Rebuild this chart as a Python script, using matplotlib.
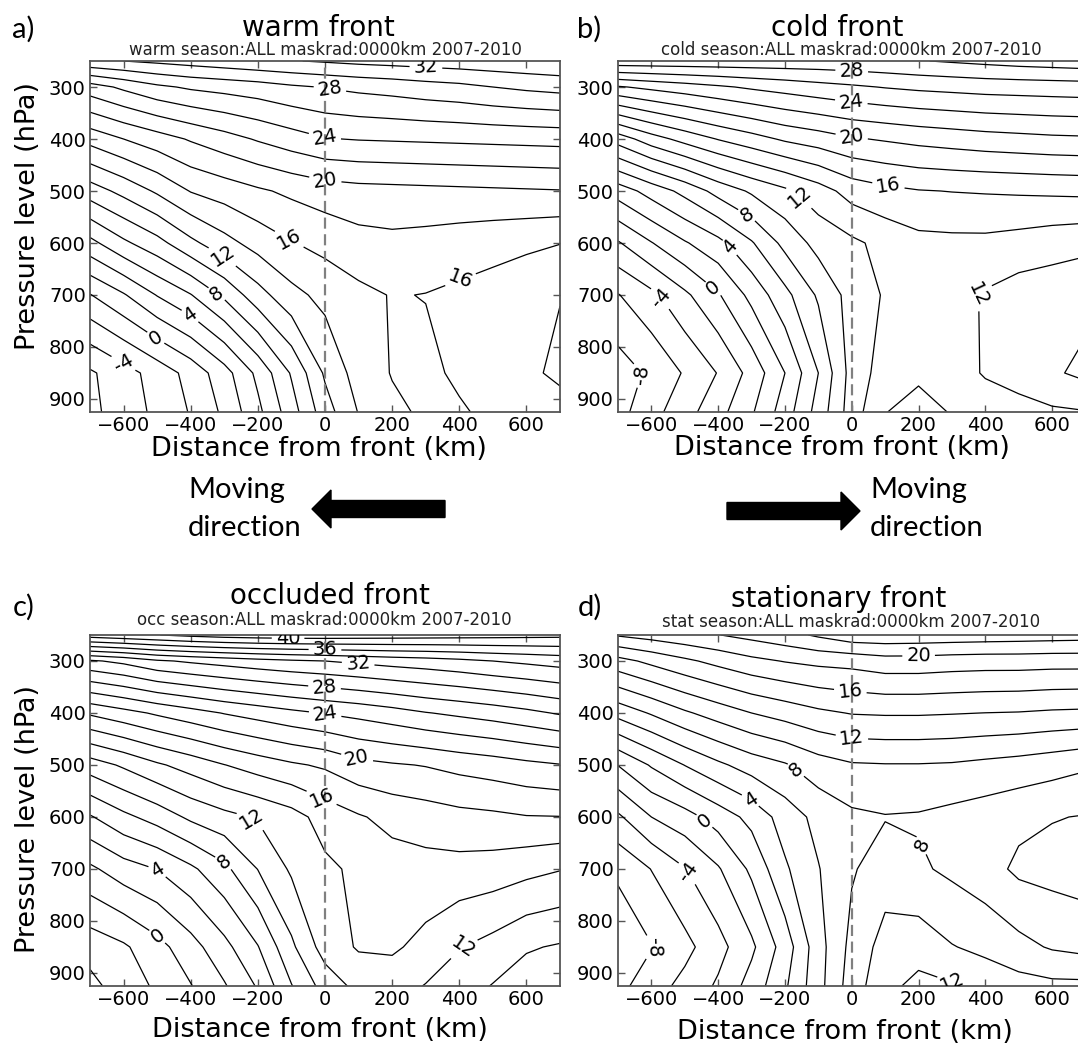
import numpy as np
import matplotlib
matplotlib.use("Agg")
import matplotlib.pyplot as plt
from matplotlib.patches import FancyArrow

W, H = 1078, 1048

# grid of the composites: distance from front (km) and pressure level (hPa)
dist_km = [-700, -600, -500, -400, -300, -200, -100, 0, 100, 200, 300, 400, 500, 600, 700]
pressure_hpa = [250, 300, 400, 500, 600, 700, 850, 925]

# one row per pressure level, one column per distance
warm_front = [
    [29.6, 30.0, 30.4, 30.8, 31.2, 31.6, 31.9, 32.2, 32.5, 32.7, 32.9, 33.1, 33.3, 33.5, 33.7],
    [23.1, 24.4, 25.6, 26.3, 26.7, 27.1, 27.7, 28.1, 28.5, 28.8, 29.2, 29.5, 30.0, 30.4, 30.7],
    [16.7, 18.0, 19.1, 20.2, 21.2, 22.2, 23.1, 23.9, 24.1, 24.2, 24.3, 24.4, 24.5, 24.6, 24.7],
    [11.0, 12.6, 14.3, 16.1, 16.9, 17.7, 18.4, 19.0, 19.3, 19.4, 19.5, 19.6, 19.7, 19.8, 19.9],
    [5.4, 7.6, 9.3, 11.5, 13.3, 14.8, 15.9, 16.6, 17.3, 17.5, 17.3, 17.0, 16.7, 16.4, 16.05],
    [-0.1, 1.8, 4.1, 5.9, 8.4, 11.2, 13.4, 14.6, 15.5, 16.1, 15.95, 15.6, 15.2, 14.6, 14.05],
    [-6.3, -4.8, -3.2, -1.3, 1.2, 4.5, 8.2, 12.3, 14.9, 16.1, 16.4, 15.7, 15.0, 14.3, 13.7],
    [-6.5, -5.05, -3.55, -1.85, 0.4, 3.5, 7.1, 11.1, 14.1, 15.6, 16.3, 16.2, 15.6, 15.1, 14.6],
]
cold_front = [
    [29.3, 29.3, 29.3, 29.3, 29.3, 29.3, 29.3, 29.4, 29.6, 29.9, 30.2, 30.5, 30.8, 31.0, 31.2],
    [21.8, 22.5, 23.1, 23.7, 24.3, 24.8, 25.3, 25.7, 26.1, 26.4, 26.6, 26.8, 26.9, 27.0, 27.1],
    [10.9, 13.1, 14.7, 16.1, 17.2, 18.3, 19.0, 19.8, 20.2, 20.6, 20.9, 21.2, 21.4, 21.6, 21.7],
    [2.9, 4.8, 6.6, 8.7, 10.3, 11.6, 13.1, 14.8, 15.5, 15.9, 16.05, 16.15, 16.25, 16.35, 16.45],
    [-2.2, -0.1, 1.8, 3.4, 5.8, 8.6, 10.7, 11.6, 12.6, 13.4, 13.5, 13.5, 13.2, 12.8, 12.5],
    [-6.1, -4.5, -2.4, -0.2, 2.6, 5.4, 8.3, 10.8, 12.2, 13.4, 12.8, 11.8, 11.1, 10.9, 10.6],
    [-9.0, -7.6, -5.8, -3.9, -1.3, 2.0, 6.0, 10.8, 12.9, 13.7, 13.0, 11.8, 11.2, 10.3, 9.5],
    [-8.7, -6.7, -4.8, -2.7, -0.25, 3.0, 6.8, 11.0, 13.95, 14.6, 13.9, 13.2, 12.7, 12.3, 12.1],
]
occluded_front = [
    [39.0, 39.5, 39.95, 40.5, 40.9, 41.1, 41.2, 41.2, 41.1, 41.0, 40.9, 40.8, 40.7, 40.6, 40.5],
    [27.7, 28.5, 29.7, 30.3, 30.8, 31.3, 31.7, 32.0, 32.4, 32.8, 33.1, 33.5, 34.0, 34.4, 34.8],
    [18.3, 19.3, 20.3, 21.2, 22.1, 22.8, 23.5, 24.1, 24.6, 25.2, 25.9, 26.4, 26.9, 27.5, 28.2],
    [11.0, 12.3, 13.7, 14.8, 15.95, 16.9, 17.7, 18.3, 19.4, 19.8, 20.1, 20.6, 21.0, 21.5, 21.9],
    [5.8, 7.5, 8.8, 10.4, 11.4, 12.2, 13.2, 14.8, 15.8, 16.6, 17.0, 17.4, 17.6, 17.9, 17.95],
    [1.6, 3.1, 4.05, 5.6, 7.5, 10.05, 12.3, 13.6, 14.4, 15.1, 15.3, 15.3, 15.1, 14.6, 14.1],
    [-3.2, -2.3, -0.7, 1.2, 3.4, 5.9, 9.6, 12.9, 14.2, 14.3, 13.4, 12.1, 11.3, 10.2, 9.8],
    [-4.6, -3.0, -1.7, -0.1, 1.8, 4.2, 7.9, 10.8, 12.6, 12.9, 11.9, 10.9, 9.9, 9.0, 8.2],
]
stationary_front = [
    [18.2, 18.8, 19.4, 19.95, 20.6, 21.3, 22.3, 23.3, 23.4, 23.3, 23.2, 23.1, 23.0, 22.9, 22.8],
    [13.3, 14.5, 15.6, 16.6, 17.5, 18.1, 18.5, 18.7, 19.2, 19.2, 19.0, 18.9, 18.9, 18.8, 18.8],
    [6.7, 8.2, 9.7, 10.9, 12.0, 12.8, 13.6, 14.1, 14.2, 14.2, 14.1, 13.98, 13.9, 13.7, 13.6],
    [0.05, 2.2, 4.05, 5.6, 6.9, 7.8, 9.1, 9.8, 9.9, 9.9, 9.8, 9.5, 9.2, 8.8, 8.3],
    [-4.35, -2.0, -0.8, 0.9, 2.6, 4.9, 6.6, 7.6, 7.9, 7.8, 7.4, 7.0, 6.5, 6.1, 5.9],
    [-7.6, -5.95, -4.1, -2.2, 0.4, 3.7, 5.9, 7.8, 9.0, 8.3, 7.6, 6.8, 5.6, 5.3, 5.0],
    [-9.5, -8.1, -6.6, -4.7, -2.4, 0.9, 5.2, 8.6, 10.8, 11.1, 10.1, 9.5, 8.6, 7.8, 7.4],
    [-8.6, -6.9, -5.4, -3.7, -1.2, 1.7, 5.3, 9.0, 11.4, 12.6, 12.2, 11.3, 10.8, 10.5, 10.5],
]

titles = ["warm front", "cold front", "occluded front", "stationary front"]
subtitles = ["warm season:ALL maskrad:0000km 2007-2010",
             "cold season:ALL maskrad:0000km 2007-2010",
             "occ season:ALL maskrad:0000km 2007-2010",
             "stat season:ALL maskrad:0000km 2007-2010"]
letters = ["a)", "b)", "c)", "d)"]

# where the inline contour labels sit (km, hPa)
label_spots = [
    [(300, 270), (15, 302), (0, 395), (0, 484), (-105, 591), (-305, 626),
     (-325, 700), (-405, 744), (-505, 783), (-600, 831), (404, 671)],
    [(0, 267), (0, 322), (0, 395), (110, 488), (-145, 504), (-305, 536),
     (-355, 603), (-405, 680), (-565, 703), (-630, 853), (365, 697)],
    [(-110, 258), (0, 274), (100, 295), (0, 340), (0, 404), (100, 476),
     (0, 548), (-217, 603), (-292, 677), (-497, 702), (-497, 828), (410, 850)],
    [(200, 285), (-5, 362), (0, 449), (-155, 500), (-300, 564), (-435, 603),
     (-485, 705), (-595, 850), (200, 657), (305, 915)],
]

plt.rcParams['font.family'] = 'DejaVu Sans'
plt.rcParams['contour.negative_linestyle'] = 'solid'
fig = plt.figure(figsize=(W / 100, H / 100), dpi=100)

# axes boxes in pixels: left, top, width, height
boxes = [(90, 61, 470, 351), (618, 61, 467.5, 351),
         (90, 635, 470, 351), (618, 635, 467.5, 351)]
title_xy = [(318, 36), (837, 36), (330, 604), (839, 607)]
sub_xy = [(325, 55), (851, 55), (324, 625), (851, 627)]
letter_xy = [(12, 29), (577, 29), (13, 607), (578, 607)]
xlabel_pos = [(0.488, -0.105), (0.478, -0.103), (0.489, -0.125), (0.486, -0.131)]
ylabel_pos = [(-0.132, 0.558), None, (-0.132, 0.476), None]

fields = [warm_front, cold_front, occluded_front, stationary_front]

for i, field in enumerate(fields):
    z = np.array(field)
    all_lv = np.arange(-12, 46, 2)
    all_lv = all_lv[(all_lv > z.min()) & (all_lv < z.max())]
    plain_lv = [lv for lv in all_lv if lv % 4 != 0]
    lab_lv = [lv for lv in all_lv if lv % 4 == 0]

    l, t, w, h = boxes[i]
    ax = fig.add_axes([l / W, 1 - (t + h) / H, w / W, h / H])
    ax.contour(dist_km, pressure_hpa, z, levels=plain_lv, colors='k', linewidths=0.9)
    cs = ax.contour(dist_km, pressure_hpa, z, levels=lab_lv, colors='k', linewidths=0.9)
    labels = ax.clabel(cs, manual=label_spots[i], fmt='%d', fontsize=14,
                       inline=True, inline_spacing=4)
    # labels at the frame edge are cut by it, as in the original
    for txt in labels:
        txt.set_clip_path(ax.patch)
    ax.axvline(0, color='#808080', ls=(0, (5, 2.5)), lw=1.6)
    ax.set_xlim(-700, 700)
    ax.set_ylim(925, 250)
    ax.set_xticks(range(-600, 601, 200))
    ax.set_yticks(range(300, 901, 100))
    ax.tick_params(direction='in', top=True, right=True, length=5, width=1,
                   labelsize=14, color='#555555', pad=3)
    for sp in ax.spines.values():
        sp.set_color('#555555')
        sp.set_linewidth(1.3)
    ax.set_xlabel('Distance from front (km)', fontsize=19.5)
    ax.xaxis.set_label_coords(*xlabel_pos[i])
    ax.xaxis.label.set_va('center')
    if ylabel_pos[i] is not None:
        ax.set_ylabel('Pressure level (hPa)', fontsize=19.5)
        ax.yaxis.set_label_coords(*ylabel_pos[i])
        ax.yaxis.label.set_va('center')

    tx, ty = title_xy[i]
    fig.text(tx / W, 1 - ty / H, titles[i], fontsize=20, ha='center', va='baseline')
    sx, sy = sub_xy[i]
    fig.text(sx / W, 1 - sy / H, subtitles[i], fontsize=12, ha='center', va='baseline',
             color='#222222')
    lx, ly = letter_xy[i]
    fig.text(lx / W, 1 - ly / H, letters[i], fontsize=21, ha='left', va='center',
             family='Lato')

# moving-direction arrows and notes, drawn in pixel space
over = fig.add_axes([0, 0, 1, 1], zorder=10)
over.set_xlim(0, W)
over.set_ylim(H, 0)
over.axis('off')
over.patch.set_alpha(0)
over.add_patch(FancyArrow(445, 509, -133, 0, width=17, head_width=38, head_length=19,
                          length_includes_head=True, color='black'))
over.add_patch(FancyArrow(727, 511, 133, 0, width=17, head_width=38, head_length=19,
                          length_includes_head=True, color='black'))
for x0 in (188, 870):
    over.text(x0, 490, 'Moving', fontsize=21, family='Lato', ha='left', va='center')
    over.text(x0, 528, 'direction', fontsize=21, family='Lato', ha='left', va='center')

fig.savefig('out.png', dpi=100)
